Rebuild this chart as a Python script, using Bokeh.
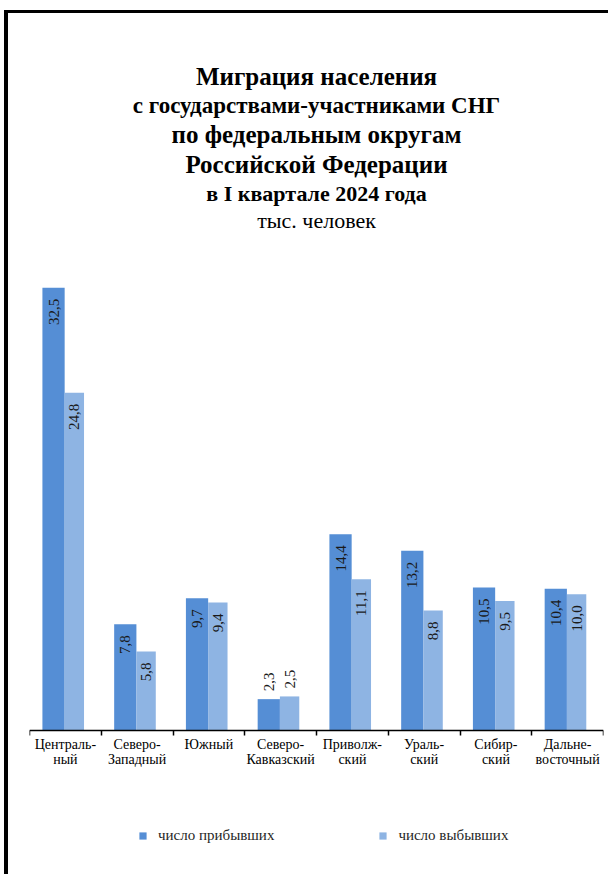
import math
from bokeh.plotting import figure
from bokeh.models import (ColumnDataSource, Range1d, FixedTicker, Title,
                          Legend, LegendItem)
from bokeh.transform import dodge
from bokeh.core.properties import value
from bokeh.embed import file_html
from bokeh.resources import INLINE

# ---------------- data ----------------
districts = ["Центральный", "Северо-Западный", "Южный", "Северо-Кавказский",
             "Приволжский", "Уральский", "Сибирский", "Дальневосточный"]
tick_labels = ["Централь-\nный", "Северо-\nЗападный", "Южный",
               "Северо-\nКавказский", "Приволж-\nский", "Ураль-\nский",
               "Сибир-\nский", "Дальне-\nвосточный"]
arrived = [32.5, 7.8, 9.7, 2.3, 14.4, 13.2, 10.5, 10.4]
departed = [24.8, 5.8, 9.4, 2.5, 11.1, 8.8, 9.5, 10.0]
series_names = ["число прибывших", "число выбывших"]
title_lines = ["Миграция населения",
               "с государствами-участниками СНГ",
               "по федеральным округам",
               "Российской Федерации",
               "в I квартале 2024 года",
               "тыс. человек"]

# ---------------- styles ----------------
SERIF = "Liberation Serif"
C_ARR = "#558ED5"
C_DEP = "#8EB4E3"
OFF_ARR, W_ARR = -0.165, 0.31
OFF_DEP, W_DEP = 0.125, 0.27

n = len(districts)
p = figure(width=604, height=864, output_backend="svg", toolbar_location=None,
           x_range=Range1d(-0.5, n - 0.5), y_range=Range1d(-10.06, 36.56),
           y_axis_location=None,
           min_border_left=21, min_border_right=9,
           min_border_top=219, min_border_bottom=10)
p.styles = {"border-top": "3px solid black", "border-left": "4px solid black",
            "margin-left": "4px", "margin-top": "10px"}
p.outline_line_color = None
p.xgrid.visible = False
p.ygrid.visible = False
p.background_fill_color = "white"
p.border_fill_color = "white"

# titles: p.title is outermost; "above" layouts stack outward from the frame
sizes = [25, 23, 25, 25, 22, 22]
styles = ["bold", "bold", "bold", "bold", "bold", "normal"]
standoffs = [0, 2, 0, 2, 0, 0]
p.title.text = title_lines[0]
p.title.align = "center"
p.title.text_font = SERIF
p.title.text_font_size = f"{sizes[0]}px"
p.title.text_font_style = styles[0]
p.title.text_color = "black"
p.title.standoff = standoffs[0]
for k in range(len(title_lines) - 1, 0, -1):
    p.add_layout(Title(text=title_lines[k], align="center", text_font=SERIF,
                       text_font_size=f"{sizes[k]}px",
                       text_font_style=styles[k], text_color="black",
                       standoff=standoffs[k]), "above")

# bars
src = ColumnDataSource(dict(idx=list(range(n)), district=districts,
                            arrived=arrived, departed=departed))
r1 = p.vbar(x=dodge("idx", OFF_ARR), top="arrived", bottom=0, width=W_ARR,
            source=src, fill_color=C_ARR, line_color=None)
r2 = p.vbar(x=dodge("idx", OFF_DEP), top="departed", bottom=0, width=W_DEP,
            source=src, fill_color=C_DEP, line_color=None)

# value labels
def fmt(v):
    return f"{v:.1f}".replace(".", ",")

for vals, off in ((arrived, OFF_ARR), (departed, OFF_DEP)):
    for inside in (True, False):
        ids = [i for i, v in enumerate(vals) if (v >= 4) == inside]
        if not ids:
            continue
        s = ColumnDataSource(dict(idx=ids, val=[vals[i] for i in ids],
                                  lab=[fmt(vals[i]) for i in ids]))
        p.text(x=dodge("idx", off), y="val", text="lab", source=s,
               angle=math.pi / 2,
               text_align="right" if inside else "left",
               text_baseline="middle",
               y_offset=11 if inside else -8,
               text_font=value(SERIF), text_font_size="15px",
               text_color="#1a1a1a")

# axis pinned at zero
ax = p.xaxis[0]
ax.fixed_location = 0
ax.ticker = FixedTicker(ticks=list(range(n)),
                        minor_ticks=[i - 0.5 for i in range(n + 1)])
ax.major_label_overrides = {i: t for i, t in enumerate(tick_labels)}
ax.major_tick_line_color = None
ax.major_tick_in = 0
ax.major_tick_out = 0
ax.minor_tick_line_color = "black"
ax.minor_tick_line_width = 1.5
ax.minor_tick_in = 0
ax.minor_tick_out = 5
ax.axis_line_color = "black"
ax.axis_line_width = 1.5
ax.major_label_text_font = SERIF
ax.major_label_text_font_size = "14px"
ax.major_label_text_color = "black"
ax.major_label_text_line_height = 1.0
ax.major_label_standoff = 2

# legend inside the frame, near its bottom
legend = Legend(items=[LegendItem(label=series_names[0], renderers=[r1]),
                       LegendItem(label=series_names[1], renderers=[r2])],
                orientation="horizontal", location=(109, 23),
                margin=0, padding=0, spacing=104,
                glyph_width=9, glyph_height=9, label_standoff=11,
                label_height=9,
                label_text_font=SERIF, label_text_font_size="15px",
                label_text_color="#262626", label_text_baseline="middle",
                border_line_color=None, background_fill_alpha=0)
p.add_layout(legend, "center")

open("out.html", "w").write(file_html(p, INLINE))
